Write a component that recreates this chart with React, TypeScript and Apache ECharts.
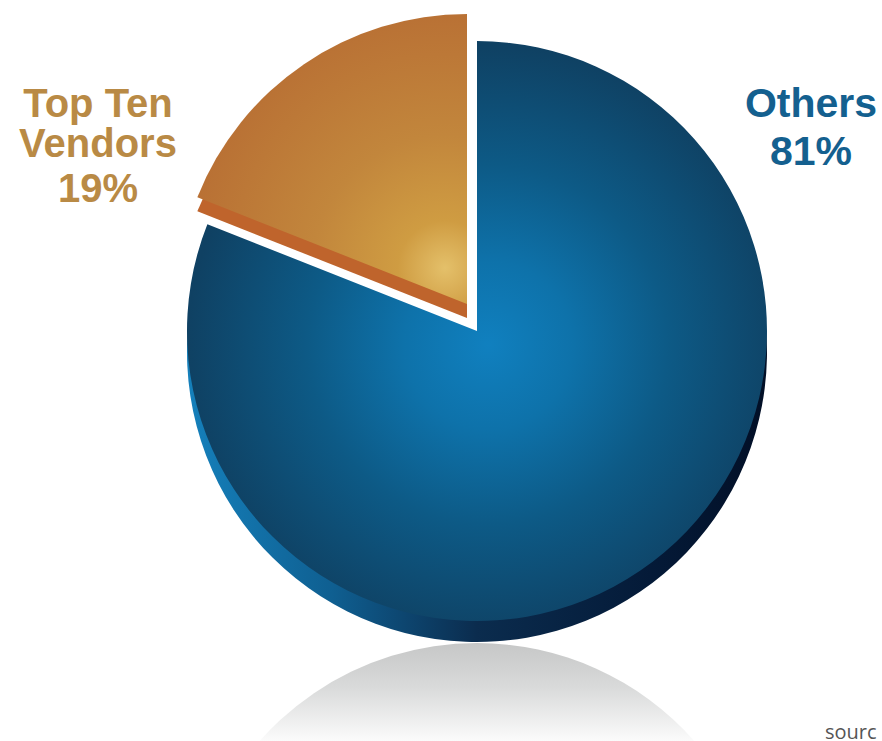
import React, { useEffect, useRef } from "react";
import * as echarts from "echarts";

const categories = ["Others", "Top Ten Vendors"];
const shareValues = [81, 19];
const othersLabelLines = ["Others", `${shareValues[0]}%`];
const topTenLabelLines = ["Top Ten", "Vendors", `${shareValues[1]}%`];
const footerText = "sourc";

const HIDDEN = "rgba(0,0,0,0)";
const RADIUS = 290;

const radial = (x: number, y: number, r: number, stops: [number, string][]) => ({
  type: "radial", x, y, r, global: true,
  colorStops: stops.map(([offset, color]) => ({ offset, color })),
});
const linear = (x: number, y: number, x2: number, y2: number, stops: [number, string][]) => ({
  type: "linear", x, y, x2, y2, global: true,
  colorStops: stops.map(([offset, color]) => ({ offset, color })),
});

// One pie layer: same shares every time, with a fill per slice.
const pieLayer = (cx: number, cy: number, fills: unknown[]) => ({
  type: "pie",
  silent: true,
  center: [cx, cy],
  radius: RADIUS,
  startAngle: 90,
  clockwise: true,
  label: { show: false },
  labelLine: { show: false },
  data: categories.map((name, i) => ({
    name,
    value: shareValues[i],
    itemStyle: { color: fills[i] },
  })),
});

const blueDepth = linear(187, 0, 767, 0, [
  [0, "#1580bb"],
  [0.25, "#0f5f91"],
  [0.5, "#0b2c4e"],
  [0.8, "#041a38"],
  [1, "#020f26"],
]);
const blueTop = radial(488, 345, 300, [
  [0, "#1080bf"],
  [0.28, "#0e72aa"],
  [0.6, "#0d5a86"],
  [1, "#0f4163"],
]);
const amberDepth = "#bf642c";
const amberTop = radial(445, 268, 295, [
  [0, "#e4c06a"],
  [0.16, "#cf9c42"],
  [0.45, "#c2863c"],
  [1, "#b66a32"],
]);
const reflection = linear(0, 643, 0, 741, [
  [0, "#c6c7c7"],
  [0.45, "#d9dada"],
  [1, "#fbfbfb"],
]);

const makeLines = (lines: string[], cx: number, baselines: number[], fill: string, size: number) =>
  lines.map((text, i) => ({
    type: "text",
    x: cx,
    y: baselines[i],
    style: {
      text,
      fill,
      align: "center",
      verticalAlign: "bottom",
      font: `bold ${size}px "Liberation Sans", Arial, sans-serif`,
    },
  }));

export default function App() {
  const ref = useRef<HTMLDivElement>(null);

  useEffect(() => {
    const chart = echarts.init(ref.current!, null, { renderer: "svg" });
    chart.setOption({
      animation: false,
      backgroundColor: "#ffffff",
      series: [
        pieLayer(477, 933, [reflection, reflection]),
        pieLayer(477, 352, [blueDepth, HIDDEN]),
        pieLayer(477, 331, [blueTop, HIDDEN]),
        pieLayer(467, 318, [HIDDEN, amberDepth]),
        pieLayer(467, 304, [HIDDEN, amberTop]),
      ],
      graphic: [
        ...makeLines(topTenLabelLines, 98, [123, 163, 208], "#b98a45", 40),
        ...makeLines(othersLabelLines, 811, [123, 171], "#14608f", 41),
        {
          type: "text",
          x: 825,
          y: 741,
          style: {
            text: footerText,
            fill: "#555555",
            align: "left",
            verticalAlign: "bottom",
            font: '20px "Open Sans", sans-serif',
          },
        },
      ],
    });
    return () => chart.dispose();
  }, []);

  return <div ref={ref} style={{ position: "absolute", left: 0, top: 0, width: 882, height: 741, overflow: "hidden" }} />;
}
